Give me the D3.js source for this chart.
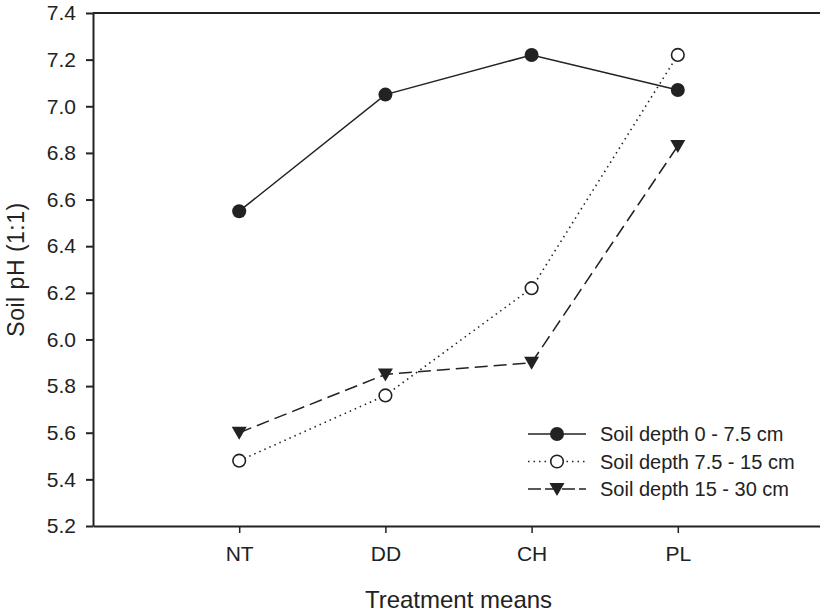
<!DOCTYPE html>
<html>
<head>
<meta charset="utf-8">
<script src="https://cdn.jsdelivr.net/npm/d3@7"></script>
<style>
  body { margin: 0; background: #fff; }
  svg { font-family: Arial, "Liberation Sans", Helvetica, sans-serif; }
</style>
</head>
<body>
<svg id="chart" width="820" height="612"></svg>
<script>
const treatments = ['NT', 'DD', 'CH', 'PL'];
const depth0to75 = [6.55, 7.05, 7.22, 7.07];
const depth75to15 = [5.48, 5.76, 6.22, 7.22];
const depth15to30 = [5.60, 5.85, 5.90, 6.83];
const seriesNames = ['Soil depth 0 - 7.5 cm', 'Soil depth 7.5 - 15 cm', 'Soil depth 15 - 30 cm'];
const yTicks = [5.2, 5.4, 5.6, 5.8, 6.0, 6.2, 6.4, 6.6, 6.8, 7.0, 7.2, 7.4];

const ink = '#222';
const svg = d3.select('#chart');

// x is positional: category i sits at i+1 on a 0..5 scale
const x = d3.scaleLinear().domain([0, 5]).range([93, 824]);
const y = d3.scaleLinear().domain([5.2, 7.4]).range([526, 13]);

// y axis
const yAxis = svg.append('g')
  .attr('transform', 'translate(93,0)')
  .call(d3.axisLeft(y).tickValues(yTicks).tickFormat(d3.format('.1f')).tickSize(7).tickSizeOuter(0));
yAxis.select('.domain').attr('stroke', ink).attr('stroke-width', 2);
yAxis.selectAll('.tick line').attr('stroke', ink).attr('stroke-width', 2);
yAxis.selectAll('.tick text')
  .attr('x', -17)
  .attr('fill', ink)
  .style('font-size', '21px');

// x axis
const xAxis = svg.append('g')
  .attr('transform', 'translate(0,526)')
  .call(d3.axisBottom(x).tickValues([1, 2, 3, 4]).tickFormat(d => treatments[d - 1]).tickSize(7).tickSizeOuter(0));
xAxis.select('.domain').attr('stroke', ink).attr('stroke-width', 2);
xAxis.selectAll('.tick line').attr('stroke', ink).attr('stroke-width', 1.5);
xAxis.selectAll('.tick text')
  .attr('y', 20)
  .attr('fill', ink)
  .style('font-size', '21px');

// top border
svg.append('line')
  .attr('x1', x(0)).attr('x2', x(5))
  .attr('y1', y(7.4)).attr('y2', y(7.4))
  .attr('stroke', ink).attr('stroke-width', 2);

// axis titles
svg.append('text')
  .attr('x', (x(0) + x(5)) / 2)
  .attr('y', 608)
  .attr('text-anchor', 'middle')
  .attr('fill', ink)
  .style('font-size', '24px')
  .text('Treatment means');

svg.append('text')
  .attr('transform', `translate(24,${(y(5.2) + y(7.4)) / 2}) rotate(-90)`)
  .attr('text-anchor', 'middle')
  .attr('fill', ink)
  .style('font-size', '23px')
  .style('letter-spacing', '0.5px')
  .text('Soil pH (1:1)');

const series = [
  {name: seriesNames[0], values: depth0to75, dash: null, marker: 'filled'},
  {name: seriesNames[1], values: depth75to15, dash: '1.5,4', marker: 'open'},
  {name: seriesNames[2], values: depth15to30, dash: '13,6', marker: 'triangle'}
];

const line = d3.line()
  .x((d, i) => x(i + 1))
  .y(d => y(d));

function drawMarker(g, kind, cx, cy) {
  if (kind === 'filled') {
    g.append('circle').attr('cx', cx).attr('cy', cy).attr('r', 7).attr('fill', ink);
  } else if (kind === 'open') {
    g.append('circle').attr('cx', cx).attr('cy', cy).attr('r', 6.3)
      .attr('fill', '#fff').attr('stroke', ink).attr('stroke-width', 1.6);
  } else {
    g.append('path')
      .attr('d', `M${cx - 7.5},${cy - 6} L${cx + 7.5},${cy - 6} L${cx},${cy + 7} Z`)
      .attr('fill', ink);
  }
}

series.forEach(s => {
  svg.append('path')
    .datum(s.values)
    .attr('d', line)
    .attr('fill', 'none')
    .attr('stroke', ink)
    .attr('stroke-width', s.dash === '1.5,4' ? 1.6 : 1.5)
    .attr('stroke-dasharray', s.dash);
  const g = svg.append('g');
  s.values.forEach((v, i) => drawMarker(g, s.marker, x(i + 1), y(v)));
});

// legend
const legend = svg.append('g');
series.forEach((s, i) => {
  const ly = 434 + i * 27.5;
  legend.append('line')
    .attr('x1', 528).attr('x2', 586)
    .attr('y1', ly).attr('y2', ly)
    .attr('stroke', ink)
    .attr('stroke-width', 1.5)
    .attr('stroke-dasharray', s.dash === '13,6' ? '13,4' : s.dash);
  drawMarker(legend, s.marker, 557, ly);
  legend.append('text')
    .attr('x', 600)
    .attr('y', ly + 7)
    .attr('fill', ink)
    .style('font-size', '20px')
    .text(s.name);
});
</script>
</body>
</html>
